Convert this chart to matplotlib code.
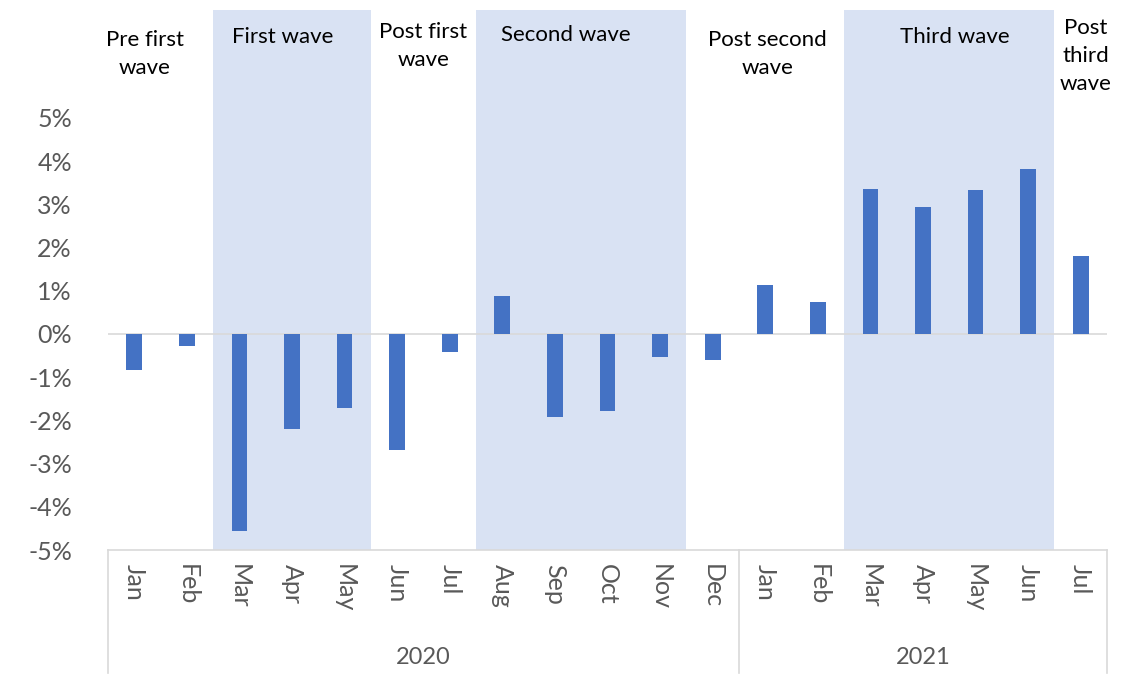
import matplotlib
matplotlib.use("Agg")
import matplotlib.pyplot as plt
import matplotlib.transforms as mtransforms

# Monthly change, Jan 2020 .. Jul 2021 (%)
months = ["Jan", "Feb", "Mar", "Apr", "May", "Jun", "Jul", "Aug", "Sep", "Oct", "Nov", "Dec",
          "Jan", "Feb", "Mar", "Apr", "May", "Jun", "Jul"]
values = [-0.83, -0.27, -4.55, -2.21, -1.72, -2.68, -0.41, 0.87, -1.92, -1.78, -0.54, -0.60,
          1.13, 0.74, 3.35, 2.93, 3.33, 3.82, 1.80]
years = ["2020", "2021"]
year_spans = [(0, 11), (12, 18)]   # first / last month index of each year

# Periods: label, first month index, last month index, shaded?
period_labels = ["Pre first\nwave", "First wave", "Post first\nwave", "Second wave",
                 "Post second\nwave", "Third wave", "Post\nthird\nwave"]
period_start = [0, 2, 5, 7, 11, 14, 18]
period_end = [1, 4, 6, 10, 13, 17, 18]
period_shaded = [False, True, False, True, False, True, False]

BAR = "#4472C4"
SHADE = "#D9E2F3"
AXIS = "#D9D9D9"
TEXT = "#595959"
FONT = ["Lato", "DejaVu Sans"]

# label placement tweaks (month units / data units)
label_dx = [-0.3, -0.17, 0.0, -0.3, 0.05, 0.1, 0.1]
label_y = [6.47, 6.88, 6.67, 6.92, 6.47, 6.88, 6.43]

plt.rcParams["font.family"] = FONT

fig = plt.figure(figsize=(11.28, 6.75), dpi=100)
ax = fig.add_axes([108 / 1128, 1 - 550 / 675, (1107 - 108) / 1128, 540 / 675])

x = list(range(len(months)))
ax.bar(x, values, width=0.3, color=BAR, zorder=3)

ax.set_xlim(-0.5, len(months) - 0.5)
ax.set_ylim(-5, 7.5)

# shaded wave periods + labels
for i, (lab, s, e, shaded) in enumerate(zip(period_labels, period_start, period_end, period_shaded)):
    if shaded:
        ax.axvspan(s - 0.5, e + 0.5, color=SHADE, lw=0, zorder=1)
    ax.text((s + e) / 2 + label_dx[i], label_y[i], lab, ha="center", va="center",
            fontsize=16, color="black", linespacing=1.5, zorder=4)

ax.axhline(0, color=AXIS, lw=1.2, zorder=2)

# y axis
yt = list(range(-5, 6))
ax.set_yticks(yt)
ax.set_yticklabels([f"{v}%" for v in yt], fontsize=18, color=TEXT)
ax.tick_params(axis="y", length=0, pad=26)

# x axis: months rotated, years below
ax.set_xticks(x)
ax.set_xticklabels(months, rotation=-90, fontsize=18, color=TEXT, va="top")
ax.tick_params(axis="x", length=0, pad=10)

for sp in ["top", "right", "left"]:
    ax.spines[sp].set_visible(False)
ax.spines["bottom"].set_color(AXIS)
ax.spines["bottom"].set_linewidth(1.2)

trans = mtransforms.blended_transform_factory(ax.transData, ax.transAxes)
seps = [-0.5] + [e + 0.5 for _, e in year_spans]
for sx in seps:
    ax.plot([sx, sx], [0, -0.228], transform=trans, color=AXIS, lw=1.2, clip_on=False)
for yr, (s, e) in zip(years, year_spans):
    ax.text((s + e) / 2, -0.2, yr, transform=trans, ha="center", va="center",
            fontsize=17, color=TEXT)

fig.savefig("out.png", dpi=100, facecolor="white")
